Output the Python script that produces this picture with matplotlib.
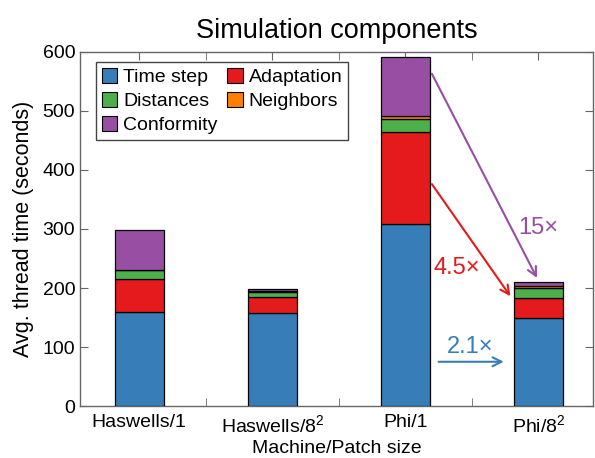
import matplotlib

matplotlib.use("Agg")
import matplotlib.pyplot as plt  # noqa: E402
from matplotlib.patches import Patch  # noqa: E402

plt.rcParams["font.family"] = ["Liberation Sans", "DejaVu Sans"]
plt.rcParams["mathtext.fontset"] = "custom"
plt.rcParams["mathtext.rm"] = "Liberation Sans"
plt.rcParams["mathtext.it"] = "Liberation Sans:italic"

# per-machine average thread time split by component (seconds)
machines = ["Haswells/1", "Haswells/8$^2$", "Phi/1", "Phi/8$^2$"]
time_step = [159, 157, 308, 149]
adaptation = [56, 28, 156, 34]
distances = [15, 8, 22, 17]
neighbors = [1, 1.5, 5, 4]
conformity = [67, 3.5, 101, 6]

# speedup annotations: label, arrow tail, arrow head, text anchor
speedups = [
    ("15\u00d7", (3.20, 563), (3.99, 217), (4.00, 302), "#984ea3"),
    ("4.5\u00d7", (3.20, 376), (3.79, 186), (3.39, 234), "#e41a1c"),
    ("2.1\u00d7", (3.25, 75), (3.74, 75), (3.49, 100), "#377eb8"),
]

BLUE, RED, GREEN, ORANGE, PURPLE = "#377eb8", "#e41a1c", "#4daf4a", "#ff7f00", "#984ea3"
SPINE = "#666666"

fig = plt.figure(figsize=(5.95, 4.58), dpi=100)
ax = fig.add_axes([0.1345, 0.1135, 0.862, 0.773])

x = [1, 2, 3, 4]
series = [
    (time_step, BLUE, "Time step"),
    (adaptation, RED, "Adaptation"),
    (distances, GREEN, "Distances"),
    (neighbors, ORANGE, "Neighbors"),
    (conformity, PURPLE, "Conformity"),
]
bottom = [0, 0, 0, 0]
for vals, color, label in series:
    ax.bar(x, vals, width=0.365, bottom=bottom, color=color,
           edgecolor="black", linewidth=0.9, zorder=3)
    bottom = [b + v for b, v in zip(bottom, vals)]

for label, tail, head, txt, color in speedups:
    ax.annotate("", xy=head, xytext=tail,
                arrowprops=dict(arrowstyle="->", color=color, lw=1.5,
                                mutation_scale=16, shrinkA=0, shrinkB=0))
    ax.text(txt[0], txt[1], label, color=color, fontsize=17,
            ha="center", va="center")

ax.set_xlim(0.555, 4.41)
ax.set_ylim(0, 600)
ax.set_yticks(range(0, 601, 100))
ax.set_xticks(x)
ax.set_xticklabels(machines)
ax.set_xticks([1.5, 2.5, 3.5], minor=True)
ax.tick_params(axis="both", which="both", direction="in", length=6,
               color=SPINE, labelsize=14, top=True, right=True)
ax.tick_params(axis="x", which="major", pad=6)
for s in ax.spines.values():
    s.set_color(SPINE)
    s.set_linewidth(1.0)

ax.set_xlabel("Machine/Patch size", fontsize=14, labelpad=3)
ax.set_ylabel("Avg. thread time (seconds)", fontsize=15.5, labelpad=6)
ax.set_title("Simulation components", fontsize=19.5, pad=10)

order = [0, 2, 4, 1, 3]
handles = [Patch(facecolor=series[i][1], edgecolor="black", linewidth=0.8,
                 label=series[i][2]) for i in order]
leg = ax.legend(handles=handles, ncol=2, loc="upper left",
                bbox_to_anchor=(0.031, 0.972), fontsize=14, frameon=True,
                fancybox=False, framealpha=1, edgecolor="#444444",
                handlelength=0.8, handleheight=0.8, handletextpad=0.3,
                columnspacing=0.5, labelspacing=0.3, borderpad=0.3,
                borderaxespad=0)
leg.get_frame().set_linewidth(1.0)

fig.savefig("out.png", dpi=100)
